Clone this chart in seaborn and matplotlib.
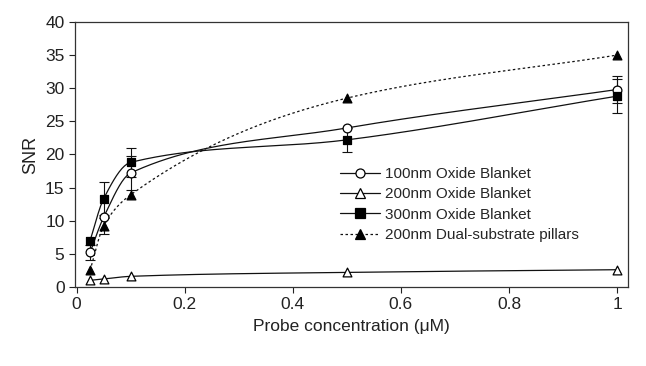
import numpy as np
import pandas as pd
import matplotlib
matplotlib.use("Agg")
import matplotlib.pyplot as plt
import seaborn as sns
from matplotlib.lines import Line2D

conc = [0.025, 0.05, 0.1, 0.5, 1.0]
series_names = ["100nm Oxide Blanket", "200nm Oxide Blanket",
                "300nm Oxide Blanket", "200nm Dual-substrate pillars"]
snr_100 = [5.2, 10.5, 17.2, 24.0, 29.8]
err_100 = [1.2, 0.0, 2.5, 0.0, 2.0]
snr_200 = [1.0, 1.2, 1.6, 2.2, 2.6]
err_200 = [0.0, 0.0, 0.0, 0.0, 0.0]
snr_300 = [7.0, 13.3, 18.8, 22.2, 28.8]
err_300 = [0.0, 2.5, 2.2, 1.8, 2.6]
snr_dual = [2.5, 9.2, 13.9, 28.5, 35.0]
err_dual = [0.0, 1.2, 0.0, 0.0, 0.0]


def smooth(x, y, n=200):
    # monotone cubic (pchip) just for drawing the connecting curve
    x = np.asarray(x, float)
    y = np.asarray(y, float)
    h = np.diff(x)
    d = np.diff(y) / h
    m = np.zeros_like(y)
    for k in range(1, len(x) - 1):
        if d[k - 1] * d[k] > 0:
            w1 = 2 * h[k] + h[k - 1]
            w2 = h[k] + 2 * h[k - 1]
            m[k] = (w1 + w2) / (w1 / d[k - 1] + w2 / d[k])
    m[0] = d[0]
    m[-1] = d[-1]
    xs = np.linspace(x[0], x[-1], n)
    idx = np.clip(np.searchsorted(x, xs) - 1, 0, len(x) - 2)
    t = (xs - x[idx]) / h[idx]
    h00 = 2 * t**3 - 3 * t**2 + 1
    h10 = t**3 - 2 * t**2 + t
    h01 = -2 * t**3 + 3 * t**2
    h11 = t**3 - t**2
    ys = h00 * y[idx] + h10 * h[idx] * m[idx] + h01 * y[idx + 1] + h11 * h[idx] * m[idx + 1]
    return xs, ys


sns.set_style("ticks")
plt.rcParams['font.family'] = ['Liberation Sans', 'DejaVu Sans']

fig = plt.figure(figsize=(6.46, 3.66), dpi=100)
ax = fig.add_axes([0.116, 0.216, 0.856, 0.724])

styles = [
    (snr_100, err_100, "o", "white", "-"),
    (snr_200, err_200, "^", "white", "-"),
    (snr_300, err_300, "s", "black", "-"),
    (snr_dual, err_dual, "^", "black", (0, (2, 2))),
]

handles = []
for name, (vals, errs, mk, fc, ls) in zip(series_names, styles):
    xs, ys = smooth(conc, vals)
    curve = pd.DataFrame({"x": xs, "y": ys})
    sns.lineplot(data=curve, x="x", y="y", ax=ax, color="#111111",
                 linewidth=0.9, linestyle=ls, zorder=2)
    e = np.array(errs)
    has = e > 0
    if has.any():
        ax.errorbar(np.array(conc)[has], np.array(vals)[has], yerr=e[has],
                    fmt="none", ecolor="#111111", elinewidth=0.8,
                    capsize=3.5, capthick=0.8, zorder=3)
    pts = pd.DataFrame({"x": conc, "y": vals})
    sns.scatterplot(data=pts, x="x", y="y", ax=ax, marker=mk, s=40,
                    facecolor=fc, edgecolor="black", linewidth=0.9, zorder=4)
    handles.append(Line2D([], [], color="#111111", linewidth=0.9, linestyle=ls,
                          marker=mk, markersize=6.5, markerfacecolor=fc,
                          markeredgecolor="black", markeredgewidth=0.9,
                          label=name))

ax.set_xlim(-0.003, 1.02)
ax.set_ylim(0, 40)
ax.set_xticks([0, 0.2, 0.4, 0.6, 0.8, 1.0])
ax.set_xticklabels(["0", "0.2", "0.4", "0.6", "0.8", "1"])
ax.set_yticks(range(0, 41, 5))
ax.tick_params(direction="out", length=4, width=0.8, labelsize=12.5, colors="#222222")
for sp in ax.spines.values():
    sp.set_linewidth(0.9)
    sp.set_color("#333333")
    sp.set_visible(True)

ax.set_xlabel("Probe concentration (\u03bcM)", fontsize=12.5, color="#222222", labelpad=5)
ax.set_ylabel("SNR", fontsize=13, color="#222222")

ax.legend(handles=handles, loc="center left", bbox_to_anchor=(0.479, 0.311),
          frameon=False, fontsize=11, handlelength=2.6, handletextpad=0.35,
          labelspacing=0.42, borderaxespad=0, borderpad=0)

fig.savefig("out.png", dpi=100)
